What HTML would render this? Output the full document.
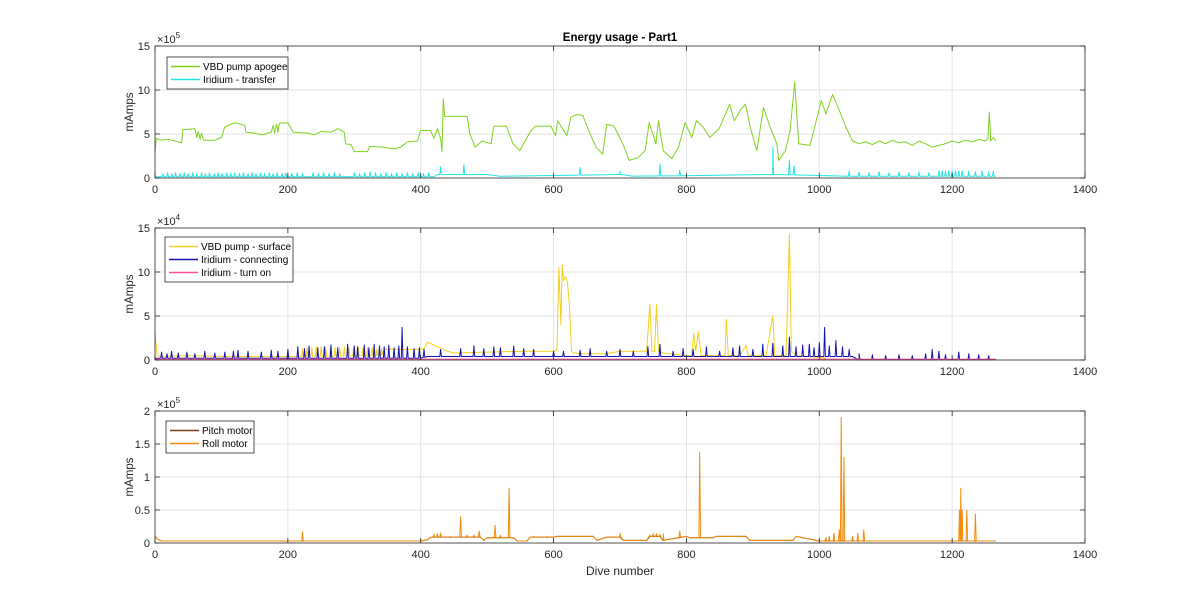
<!DOCTYPE html>
<html><head><meta charset="utf-8"><title>Energy usage - Part1</title>
<style>
html,body{margin:0;padding:0;background:#fff;}
svg{display:block;font-family:"Liberation Sans",Arial,sans-serif;}
</style></head>
<body>
<svg id="fig" width="1200" height="611" viewBox="0 0 1200 611" xmlns="http://www.w3.org/2000/svg">
<rect width="1200" height="611" fill="#fff"/>
<text x="620" y="41" text-anchor="middle" font-size="11.5" font-weight="bold" fill="#000">Energy usage - Part1</text>
<text x="620" y="575" text-anchor="middle" font-size="12" fill="#262626">Dive number</text>
</svg>
<script>
// ---- Panel 1 data (x1e5 mAmps) ----
const greenD=[0,2,10,20,30,40,42,60,63,65,68,70,73,75,90,100,105,120,135,137,150,160,175,178,180,183,185,187,200,208,230,240,250,265,275,285,287,295,300,320,323,345,360,370,380,395,400,410,415,420,425,430,432,434,436,470,474,482,492,506,510,529,539,549,566,573,596,603,606,620,626,635,644,654,664,674,680,691,704,714,727,738,744,754,758,765,778,788,798,808,815,825,835,849,859,865,872,882,889,896,906,916,926,936,939,949,956,963,969,986,1003,1010,1020,1030,1040,1050,1060,1070,1080,1090,1100,1110,1120,1130,1140,1150,1160,1170,1180,1190,1200,1210,1220,1230,1240,1250,1254,1256,1258,1262,1266];
const greenV=[3.0,4.5,4.3,4.4,4.2,4.0,5.5,5.6,4.6,5.3,4.4,5.1,4.3,4.3,4.3,4.6,5.8,6.3,6.0,5.2,5.1,4.9,5.2,6.0,5.1,6.1,5.2,6.2,6.3,5.2,5.1,4.9,5.3,5.2,5.6,5.2,3.9,3.8,3.0,3.0,3.6,3.5,3.3,3.5,4.1,4.2,5.4,5.4,5.4,4.5,5.6,4.5,3.0,9.0,7.0,7.0,5.0,3.5,4.2,3.9,5.9,5.9,3.9,3.1,5.4,5.9,5.9,4.8,6.5,4.8,6.9,7.2,7.1,5.2,3.5,2.7,6.1,5.9,3.9,2.0,2.3,3.1,6.3,3.9,6.5,3.1,2.2,3.5,6.3,4.6,6.5,5.8,4.6,5.6,7.3,8.4,6.5,7.8,8.4,5.8,3.1,8.0,5.8,3.9,2.0,3.1,5.4,10.9,3.9,3.7,8.8,7.3,9.5,7.7,5.8,4.2,3.9,4.1,3.8,4.2,3.9,4.3,4.0,4.1,3.7,4.2,3.9,3.5,3.7,3.9,4.2,4.0,4.3,4.1,4.4,4.2,4.5,7.5,4.2,4.6,4.2];
const cyanBaseD=[0,420,425,440,500,520,700,720,930,1050,1266];
const cyanBaseV=[0.15,0.15,0.4,0.4,0.4,0.2,0.4,0.2,0.4,0.2,0.2];
const cyanSpikeD=[12,19,25,31,38,44,50,57,63,70,76,82,89,95,101,108,114,120,127,133,140,146,152,159,165,172,178,184,191,197,206,214,222,238,246,254,262,270,278,300,308,316,324,332,340,348,356,364,372,380,388,396,404,412,430,465,640,700,760,790,930,955,962,1045,1060,1075,1090,1105,1120,1135,1150,1165,1180,1185,1190,1195,1200,1205,1210,1215,1225,1235,1245,1255,1262];
const cyanSpikeV=[0.5,0.6,0.5,0.6,0.5,0.6,0.5,0.6,0.5,0.6,0.5,0.6,0.5,0.6,0.5,0.6,0.5,0.6,0.5,0.6,0.5,0.6,0.5,0.6,0.5,0.6,0.5,0.6,0.5,0.6,0.5,0.6,0.5,0.6,0.5,0.6,0.5,0.6,0.5,0.6,0.5,0.6,0.7,0.6,0.5,0.6,0.5,0.6,0.5,0.6,0.5,0.6,0.5,0.6,1.3,1.5,1.2,0.8,1.6,0.9,3.5,2.0,1.4,0.8,0.7,0.6,0.7,0.6,0.7,0.6,0.7,0.6,0.8,0.8,0.8,0.8,0.8,0.8,0.8,0.8,0.8,0.7,0.8,0.7,0.8];
// ---- Panel 2 data (x1e4 mAmps) ----
const yellowD=[0,3,6,50,100,150,200,210,340,345,380,400,405,410,415,425,430,440,450,500,560,600,605,608,611,613,615,618,621,624,627,630,640,680,700,740,745,748,752,755,758,765,800,808,811,814,818,822,830,858,860,863,880,890,893,920,930,933,936,950,955,958,965,1000,1010];
const yellowV=[3.2,0.6,0.4,0.5,0.4,0.4,0.4,0.4,0.5,1.2,1.2,1.2,1.3,2.0,1.9,1.5,1.4,1.0,0.8,0.9,1.0,1.0,1.1,10.5,4.0,10.8,9.0,9.5,8.8,6.0,1.0,0.8,0.7,0.7,1.0,1.0,6.3,1.0,1.0,6.3,1.0,0.8,0.5,0.5,3.0,1.0,3.2,0.5,0.5,0.5,4.6,0.5,0.5,1.6,0.5,0.5,5.0,0.5,0.5,0.5,14.3,1.0,0.5,0.3,0.2];
const yellowCombD=[215,222,229,236,243,250,257,264,271,278,285,292,299,306,313,320,327,334,341,348,355,362,369,376,383,390,397,404];
const yellowCombV=[1.2,1.3,1.4,1.4,1.5,1.5,1.5,1.4,1.4,1.5,1.5,1.4,1.4,1.5,1.4,1.4,1.4,1.3,1.3,1.3,1.3,1.2,1.2,1.2,1.2,1.2,1.2,1.2];
const blueBaseD=[0,400,410,1050,1060,1266];
const blueBaseV=[0.2,0.2,0.4,0.4,0.05,0.05];
const blueSpikeD=[10,18,25,35,48,60,75,90,105,118,125,140,160,175,185,200,215,225,232,245,255,265,275,290,300,305,315,322,330,338,345,352,360,367,372,380,390,398,405,430,460,480,495,510,520,540,555,570,600,615,640,655,680,700,720,742,760,780,795,810,830,850,870,880,900,915,930,945,955,965,975,985,992,1000,1008,1015,1025,1035,1045,1060,1080,1100,1120,1140,1160,1170,1180,1190,1210,1225,1240,1255];
const blueSpikeV=[0.9,0.7,1.0,0.8,0.9,0.7,1.0,0.8,0.9,1.0,1.1,1.0,0.9,1.1,1.0,1.2,1.5,1.3,1.6,1.4,1.5,1.7,1.4,1.8,1.6,1.5,1.7,1.4,1.8,1.6,1.5,1.7,1.4,1.6,3.7,1.5,1.3,1.4,1.2,1.2,1.3,1.6,1.3,1.5,1.4,1.6,1.3,1.2,1.0,1.0,1.1,1.3,1.0,1.2,1.0,1.5,1.8,1.0,1.3,1.2,1.5,1.0,1.4,1.6,1.2,1.8,1.9,1.6,2.6,1.5,1.7,1.8,1.4,2.0,3.7,1.6,2.2,1.5,1.2,0.7,0.6,0.5,0.6,0.5,0.7,1.2,1.0,0.6,0.9,0.7,0.6,0.5];
const pinkD=[0,1266];
const pinkV=[0.1,0.1];
// ---- Panel 3 data (x1e5 mAmps) ----
const pitchD=[0,5,10,400,410,415,490,495,500,540,545,560,565,600,605,660,665,680,700,705,740,745,760,765,800,805,840,845,890,895,960,965,1000,1040,1266];
const pitchV=[0.1,0.05,0.03,0.03,0.05,0.09,0.09,0.04,0.08,0.08,0.03,0.03,0.09,0.09,0.1,0.1,0.04,0.09,0.09,0.04,0.04,0.1,0.1,0.04,0.1,0.08,0.08,0.1,0.1,0.04,0.04,0.1,0.03,0.03,0.03];
const rollSpikeD=[222,420,425,430,445,460,470,480,488,512,520,533,570,590,700,745,750,755,760,765,790,820,1010,1015,1022,1030,1033,1037,1050,1058,1067,1211,1213,1215,1222,1235];
const rollSpikeV=[0.17,0.13,0.14,0.15,0.1,0.4,0.12,0.12,0.18,0.27,0.12,0.83,0.1,0.1,0.15,0.12,0.14,0.14,0.13,0.14,0.18,1.37,0.08,0.1,0.15,0.2,1.9,1.3,0.1,0.15,0.2,0.5,0.83,0.5,0.5,0.44];
const xTicks=[0,200,400,600,800,1000,1200,1400];
const yTicks1=[0,5,10,15];
const yTicks2=[0,5,10,15];
const yTicks3=[0,0.5,1,1.5,2];
const yTickLabels3=["0","0.5","1","1.5","2"];

const NS="http://www.w3.org/2000/svg";
const svg=document.getElementById('fig');
const L=155,R=1085,XMAX=1400;
function mk(tag,attrs,parent){const e=document.createElementNS(NS,tag);for(const k in attrs)e.setAttribute(k,attrs[k]);(parent||svg).appendChild(e);return e;}
function xs(d){return L+d/XMAX*(R-L);}
function interp(D,V,d){if(d<=D[0])return V[0];for(let i=1;i<D.length;i++){if(d<=D[i]){const t=(d-D[i-1])/(D[i]-D[i-1]);return V[i-1]+t*(V[i]-V[i-1]);}}return V[V.length-1];}
function buildPts(baseD,baseV,spD,spV){
  let pts=[];const n=Math.min(baseD.length,baseV.length);
  for(let i=0;i<n;i++)pts.push([baseD[i],baseV[i]]);
  if(spD){const m=Math.min(spD.length,spV.length);
    for(let i=0;i<m;i++){const b=interp(baseD,baseV,spD[i]);pts.push([spD[i]-1.2,b]);pts.push([spD[i],spV[i]]);pts.push([spD[i]+1.2,b]);}}
  pts.sort((a,b)=>a[0]-b[0]);return pts;}

function panel(name,top,h,ymax,yt,ytl,exp,series,legend,lg){
  const g=mk('g',{});
  
  
  const ys=v=>top+h-v/ymax*h;
  mk('rect',{x:L,y:top,width:R-L,height:h,fill:'#fff'},g);
  xTicks.forEach(t=>{if(t>0&&t<XMAX){const l=mk('line',{x1:xs(t),x2:xs(t),y1:top,y2:top+h,stroke:'#e3e3e3','stroke-width':1},g);}});
  yt.forEach(t=>{if(t>0&&t<ymax){const l=mk('line',{x1:L,x2:R,y1:ys(t),y2:ys(t),stroke:'#e3e3e3','stroke-width':1},g);}});
  series.forEach(s=>{const p=mk('polyline',{points:s.pts.map(q=>xs(q[0]).toFixed(1)+','+ys(q[1]).toFixed(1)).join(' '),fill:'none',stroke:s.color,'stroke-width':1,'stroke-linejoin':'round'},g);
    
    });
  const box=mk('rect',{x:L,y:top,width:R-L,height:h,fill:'none',stroke:'#262626','stroke-width':0.8},g);
  
  
  xTicks.forEach(t=>{mk('line',{x1:xs(t),x2:xs(t),y1:top+h,y2:top+h-5,stroke:'#262626','stroke-width':0.8},g);mk('line',{x1:xs(t),x2:xs(t),y1:top,y2:top+5,stroke:'#262626','stroke-width':0.8},g);
    const tx=mk('text',{x:xs(t),y:top+h+15,'text-anchor':'middle','font-size':11,fill:'#262626'},g);tx.textContent=t;
    
    });
  yt.forEach((t,i)=>{mk('line',{x1:L,x2:L+5,y1:ys(t),y2:ys(t),stroke:'#262626','stroke-width':0.8},g);mk('line',{x1:R,x2:R-5,y1:ys(t),y2:ys(t),stroke:'#262626','stroke-width':0.8},g);
    const tx=mk('text',{x:L-5,y:ys(t)+4,'text-anchor':'end','font-size':11,fill:'#262626'},g);tx.textContent=ytl?ytl[i]:t;
    
    });
  const ex=mk('text',{x:L+2,y:top-3,'font-size':11,fill:'#262626'},g);
  
  
  ex.innerHTML='\u00d710<tspan dy="-5" font-size="8">'+exp+'</tspan>';
  const yl=mk('text',{x:0,y:0,'text-anchor':'middle','font-size':11.5,fill:'#262626',transform:'translate(133,'+(top+h/2)+') rotate(-90)'},g);
  yl.textContent='mAmps';
  
  
  const lgG=mk('g',{},g);
  
  
  mk('rect',{x:lg.x,y:lg.y,width:lg.w,height:legend.length*13+6,fill:'#fff',stroke:'#262626','stroke-width':0.8},lgG);
  legend.forEach((e,i)=>{const yy=lg.y+9.5+i*13;
    const ent=mk('g',{},lgG);
    
    
    mk('line',{x1:lg.x+4,x2:lg.x+33,y1:yy,y2:yy,stroke:e.color,'stroke-width':1.5},ent);
    const t=mk('text',{x:lg.x+36,y:yy+3.5,'font-size':10,fill:'#000'},ent);t.textContent=e.label;});
}

panel('panel-apogee-transfer',46,132,15,yTicks1,null,5,[
  {name:'vbd-pump-apogee-line',color:'#7ed321',pts:buildPts(greenD,greenV)},
  {name:'iridium-transfer-line',color:'#22e5e5',pts:buildPts(cyanBaseD,cyanBaseV,cyanSpikeD,cyanSpikeV)}
],[{label:'VBD pump apogee',color:'#7ed321'},{label:'Iridium - transfer',color:'#22e5e5'}],{x:167,y:57,w:121});

panel('panel-surface-connecting',228,132,15,yTicks2,null,4,[
  {name:'vbd-pump-surface-line',color:'#f5cf1a',pts:buildPts(yellowD,yellowV,yellowCombD,yellowCombV)},
  {name:'iridium-connecting-line',color:'#1414b4',pts:buildPts(blueBaseD,blueBaseV,blueSpikeD,blueSpikeV)},
  {name:'iridium-turn-on-line',color:'#ff4f9a',pts:buildPts(pinkD,pinkV)}
],[{label:'VBD pump - surface',color:'#f5cf1a'},{label:'Iridium - connecting',color:'#1414b4'},{label:'Iridium - turn on',color:'#ff4f9a'}],{x:165,y:237,w:128});

panel('panel-motors',411,132,2,yTicks3,yTickLabels3,5,[
  {name:'pitch-motor-line',color:'#7a3e14',pts:buildPts(pitchD,pitchV)},
  {name:'roll-motor-line',color:'#f28c0c',pts:buildPts(pitchD,pitchV,rollSpikeD,rollSpikeV)}
],[{label:'Pitch motor',color:'#7a3e14'},{label:'Roll motor',color:'#f28c0c'}],{x:166,y:421,w:88});
</script>
</body></html>
